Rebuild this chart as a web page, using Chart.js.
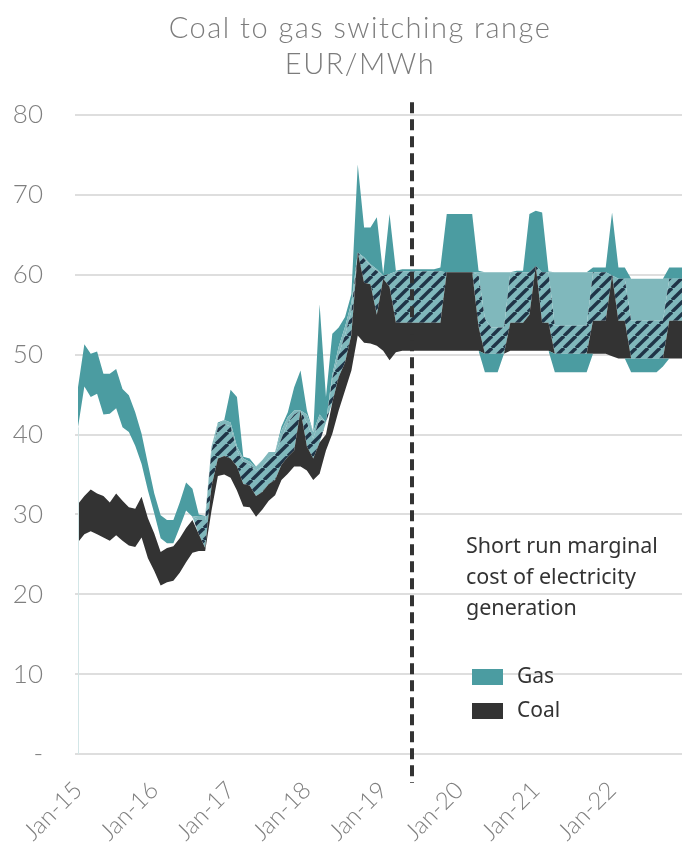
<!DOCTYPE html>
<html>
<head>
<meta charset="utf-8">
<script src="https://cdn.jsdelivr.net/npm/chart.js@4.4.1/dist/chart.umd.min.js"></script>
<style>
  html, body { margin: 0; padding: 0; background: #fff; }
  #wrap { position: relative; width: 682px; height: 848px; overflow: hidden; }
  #c { position: absolute; left: 0; top: 0; }
  .title { position: absolute; left: 0; top: 9px; width: 720px; text-align: center; letter-spacing: 1.5px;
           font-family: Lato, sans-serif; font-weight: 300; font-size: 29px; line-height: 36px; color: #7c7c7c; }
  .note  { position: absolute; left: 466px; top: 529px; font-family: 'Noto Sans', sans-serif;
           font-size: 21.5px; line-height: 31px; color: #333; }
  .key   { position: absolute; left: 472px; font-family: 'Noto Sans', sans-serif; font-size: 21px; color: #333; }
  .key i { display: inline-block; width: 31px; height: 16px; margin-right: 14px; vertical-align: -2px; }
</style>
</head>
<body>
<div id="wrap">
  <canvas id="c" width="682" height="848"></canvas>
  <div class="title">Coal to gas switching range<br>EUR/MWh</div>
  <div class="note">Short run marginal<br>cost of electricity<br>generation</div>
  <div class="key" style="top:661px"><i style="background:#4b9ca1"></i>Gas</div>
  <div class="key" style="top:695px"><i style="background:#333333"></i>Coal</div>
</div>
<script>
// monthly, Jan-15 .. Dec-22 (96 points), EUR/MWh
const tickLabels = ['Jan-15', 'Jan-16', 'Jan-17', 'Jan-18', 'Jan-19', 'Jan-20', 'Jan-21', 'Jan-22'];
const tickMonths = [0, 12, 24, 36, 48, 60, 72, 84];
const forecastStart = 52.5;   // dashed divider (mid-2019)

// bottom of the gas band where it dips below coal (summers of the forward curve)
const gasFloor = [
  null, null, null, null, null, null, null, null, null, null, null, null,
  null, null, null, null, null, null, null, null, null, null, null, null,
  null, null, null, null, null, null, null, null, null, null, null, null,
  null, null, null, null, null, null, null, null, null, null, null, null,
  null, null, null, null, null, null, null, null, null, null, null, null,
  null, null, null, 50.5, 47.8, 47.8, 47.8, 50.1, null, null, null, null,
  null, null, 50.5, 47.8, 47.8, 47.8, 47.8, 47.8, 47.8, 50.1, null, null,
  null, null, 49.5, 47.8, 47.8, 47.8, 47.8, 47.8, 48.5, 49.5, null, null
];
const coalLow = [
  26.5, 27.5, 27.9, 27.5, 27.1, 26.7, 27.4, 26.7, 26.1, 25.9, 27.1, 24.5,
  22.9, 21.1, 21.5, 21.7, 22.7, 24.0, 25.2, 25.4, 25.4, 30.5, 34.8, 35.0,
  34.6, 33.0, 31.0, 30.9, 29.7, 30.6, 31.7, 32.4, 34.3, 35.1, 36.0, 36.0,
  35.5, 34.3, 35.1, 38.0, 40.1, 43.0, 45.5, 48.0, 52.4, 51.5, 51.4, 51.1,
  50.5, 49.3, 50.3, 50.5, 50.5, 50.5, 50.5, 50.5, 50.5, 50.5, 50.5, 50.5,
  50.5, 50.5, 50.5, 50.5, 50.1, 50.1, 50.1, 50.1, 50.5, 50.5, 50.5, 50.5,
  50.5, 50.5, 50.5, 50.1, 50.1, 50.1, 50.1, 50.1, 50.1, 50.1, 50.1, 50.1,
  49.8, 49.5, 49.5, 49.5, 49.5, 49.5, 49.5, 49.5, 49.5, 49.5, 49.5, 49.5
];
const coalHigh = [
  31.3, 32.3, 33.1, 32.6, 32.3, 31.5, 32.6, 31.7, 30.9, 30.7, 32.2, 29.5,
  27.6, 25.3, 25.8, 26.0, 27.0, 28.3, 29.3, 27.5, 25.8, 33.5, 37.0, 37.3,
  37.0, 36.0, 33.8, 33.6, 32.3, 32.8, 33.8, 34.3, 36.2, 37.2, 38.0, 43.0,
  38.5, 37.0, 39.0, 40.0, 44.0, 47.2, 49.0, 52.5, 62.8, 59.0, 58.8, 55.0,
  59.5, 58.5, 54.0, 54.0, 54.0, 54.0, 54.0, 54.0, 54.0, 54.0, 60.3, 60.3,
  60.3, 60.3, 60.3, 53.5, 50.1, 50.1, 50.1, 50.1, 54.0, 54.0, 54.0, 55.0,
  61.1, 54.0, 54.0, 50.1, 50.1, 50.1, 50.1, 50.1, 50.1, 54.25, 54.25, 54.25,
  59.9, 54.25, 54.25, 49.5, 49.5, 49.5, 49.5, 49.5, 49.5, 54.25, 54.25, 54.25
];
// bottom of the gas band (top of the white gap above coal)
const gasLow = [
  40.9, 46.0, 44.7, 45.1, 42.5, 42.6, 43.3, 40.9, 40.3, 38.6, 36.3, 33.0,
  30.1, 27.0, 26.4, 26.4, 28.4, 30.5, 29.7, 27.5, 25.8, 33.5, 37.0, 37.3,
  37.0, 36.0, 33.8, 33.6, 32.3, 32.8, 33.8, 34.3, 36.2, 37.2, 38.0, 43.0,
  38.5, 37.0, 39.0, 41.5, 44.0, 47.2, 49.0, 52.5, 62.8, 59.0, 58.8, 55.0,
  59.5, 58.5, 54.0, 54.0, 54.0, 54.0, 54.0, 54.0, 54.0, 54.0, 60.3, 60.3,
  60.3, 60.3, 60.3, 53.5, 50.1, 50.1, 50.1, 50.1, 54.0, 54.0, 54.0, 55.0,
  61.1, 54.0, 54.0, 50.1, 50.1, 50.1, 50.1, 50.1, 50.1, 54.25, 54.25, 54.25,
  59.9, 54.25, 54.25, 49.5, 49.5, 49.5, 49.5, 49.5, 49.5, 54.25, 54.25, 54.25
];
// top of the hatched switching range
const hatchHigh = [
  40.9, 46.0, 44.7, 45.1, 42.5, 42.6, 43.3, 40.9, 40.3, 38.6, 36.3, 33.0,
  30.1, 27.0, 26.4, 26.4, 28.4, 30.5, 29.7, 29.3, 29.3, 38.0, 40.8, 41.3,
  41.0, 38.0, 36.6, 36.2, 35.5, 36.0, 37.0, 37.5, 39.5, 41.5, 42.5, 43.0,
  41.5, 39.5, 42.0, 41.5, 47.0, 50.0, 52.5, 55.5, 62.8, 62.0, 61.1, 60.5,
  59.9, 60.1, 60.4, 60.4, 60.4, 60.4, 60.4, 60.4, 60.4, 60.4, 60.3, 60.3,
  60.3, 60.3, 60.3, 60.0, 54.5, 53.4, 53.4, 53.4, 60.3, 60.3, 60.3, 60.3,
  61.1, 60.3, 60.3, 53.6, 53.6, 53.6, 53.6, 53.6, 53.6, 60.3, 60.3, 60.3,
  59.9, 59.5, 59.5, 54.25, 54.25, 54.25, 54.25, 54.25, 54.25, 59.5, 59.5, 59.5
];
// top of the light (unhatched) part of the switching range
const lightHigh = [
  40.9, 46.0, 44.7, 45.1, 42.5, 42.6, 43.3, 40.9, 40.3, 38.6, 36.3, 33.0,
  30.1, 27.0, 26.4, 26.4, 28.4, 30.5, 29.7, 29.8, 29.8, 38.5, 41.3, 41.8,
  41.5, 38.5, 37.0, 36.6, 35.9, 36.8, 37.8, 37.8, 40.5, 42.2, 43.0, 43.0,
  42.5, 40.3, 42.5, 41.5, 47.5, 51.0, 53.5, 56.5, 62.8, 62.2, 61.3, 60.7,
  59.9, 60.1, 60.4, 60.4, 60.4, 60.4, 60.4, 60.4, 60.4, 60.4, 60.3, 60.3,
  60.3, 60.3, 60.3, 60.3, 60.3, 60.3, 60.3, 60.3, 60.3, 60.3, 60.3, 60.3,
  61.1, 60.3, 60.3, 60.3, 60.3, 60.3, 60.3, 60.3, 60.3, 60.3, 60.3, 60.3,
  59.9, 59.5, 59.5, 59.5, 59.5, 59.5, 59.5, 59.5, 59.5, 59.5, 59.5, 59.5
];
const gasHigh = [
  45.9, 51.3, 50.1, 50.4, 47.6, 47.6, 48.2, 45.7, 44.9, 42.8, 40.1, 36.3,
  32.6, 29.9, 29.3, 29.3, 31.5, 34.0, 33.2, 30.0, 29.8, 38.5, 41.5, 41.8,
  45.6, 44.7, 37.2, 37.0, 36.0, 36.8, 37.8, 37.8, 41.0, 42.8, 45.9, 48.0,
  43.0, 40.3, 56.3, 44.7, 52.6, 53.4, 54.7, 57.6, 73.8, 65.9, 65.9, 67.2,
  60.1, 67.6, 60.5, 60.7, 60.7, 60.7, 60.7, 60.7, 60.7, 60.9, 67.6, 67.6,
  67.6, 67.6, 67.6, 60.5, 60.3, 60.3, 60.3, 60.3, 60.3, 60.5, 60.5, 67.6,
  68.0, 67.8, 60.4, 60.3, 60.3, 60.3, 60.3, 60.3, 60.3, 60.9, 60.9, 60.9,
  67.8, 60.9, 60.9, 59.5, 59.5, 59.5, 59.5, 59.5, 59.5, 60.9, 60.9, 60.9
];

const GAS   = '#4b9ca1';
const LIGHT = '#80b8bc';
const COAL  = '#333333';
const NAVY  = '#1f3447';

function hatchPattern() {
  const s = 12, cv = document.createElement('canvas');
  cv.width = s; cv.height = s;
  const g = cv.getContext('2d');
  g.fillStyle = LIGHT; g.fillRect(0, 0, s, s);
  g.strokeStyle = NAVY; g.lineWidth = 3.4;
  [-s, 0, s].forEach(dx => {
    g.beginPath(); g.moveTo(dx, s); g.lineTo(dx + s, 0); g.stroke();
  });
  return g.createPattern(cv, 'repeat');
}

const pts = arr => arr.map((v, i) => ({ x: i, y: v }));
const band = (label, arr, fill, bg) => ({
  label, data: pts(arr), fill, backgroundColor: bg, borderWidth: 0,
  pointRadius: 0, pointHoverRadius: 0, tension: 0, spanGaps: false
});

// dashed divider + the faint left edge Excel leaves under the first gas point
const forecastLine = {
  id: 'forecastLine',
  afterDatasetsDraw(chart) {
    const { ctx, scales: { x, y } } = chart;
    const x0 = x.getPixelForValue(0) + 0.5;
    ctx.save();
    ctx.strokeStyle = '#d3e6e7';
    ctx.lineWidth = 1;
    ctx.beginPath();
    ctx.moveTo(x0, y.getPixelForValue(gasLow[0]));
    ctx.lineTo(x0, y.getPixelForValue(0));
    ctx.stroke();

    const px = Math.round(x.getPixelForValue(forecastStart));
    ctx.strokeStyle = '#333';
    ctx.lineWidth = 4;
    ctx.setLineDash([11, 6]);
    ctx.beginPath();
    ctx.moveTo(px, y.getPixelForValue(81.6));
    ctx.lineTo(px, chart.chartArea.bottom + 29);
    ctx.stroke();
    ctx.restore();
  }
};

new Chart(document.getElementById('c'), {
  type: 'line',
  data: {
    datasets: [
      band('floor',     gasFloor,  false, 'transparent'),
      band('gas low',   coalLow,   '-1',  GAS),
      band('coal',      coalHigh,  '-1',  COAL),
      band('gap',       gasLow,    false, 'transparent'),
      band('switching', hatchHigh, '-1',  hatchPattern()),
      band('gas mid',   lightHigh, '-1',  LIGHT),
      band('gas high',  gasHigh,   '-1',  GAS)
    ]
  },
  options: {
    responsive: false,
    animation: false,
    devicePixelRatio: 1,
    layout: { padding: { top: 115, left: 0, right: 0, bottom: 0 } },
    plugins: { legend: { display: false }, tooltip: { enabled: false }, title: { display: false } },
    scales: {
      x: {
        type: 'linear', min: 0, max: 95,
        afterBuildTicks: s => { s.ticks = tickMonths.map(v => ({ value: v })); },
        afterFit: s => { s.height = 94; },
        grid: { display: false, drawTicks: false },
        border: { display: false },
        ticks: {
          minRotation: 45, maxRotation: 45, padding: 22,
          color: '#7f7f7f', font: { family: 'Lato', weight: 300, size: 24 },
          callback: v => tickLabels[tickMonths.indexOf(v)]
        }
      },
      y: {
        min: 0, max: 80,
        afterFit: s => { s.width = 78; },
        grid: { color: '#dedede', lineWidth: 2, tickLength: 3, drawTicks: true },
        border: { display: false },
        ticks: {
          stepSize: 10, padding: 32,
          color: '#7f7f7f', font: { family: 'Lato', weight: 300, size: 26 },
          callback: v => v === 0 ? '-' : v
        }
      }
    }
  },
  plugins: [forecastLine]
});
</script>
</body>
</html>
